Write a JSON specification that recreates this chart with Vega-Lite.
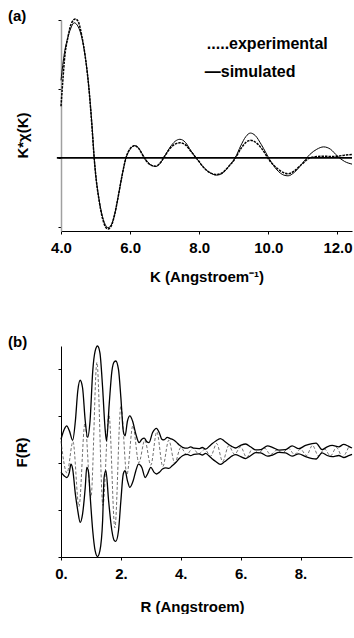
{
"$schema":"https://vega.github.io/schema/vega-lite/v6.json",
"autosize":{"type":"pad"},
"padding":{"left":8,"top":8,"right":0,"bottom":0},
"background":"white",
"bounds":"flush",
"spacing":115,
"config":{"view":{"stroke":null},"font":"Liberation Sans","axis":{"grid":false,"labelFont":"Liberation Sans","titleFont":"Liberation Sans","labelFontWeight":"bold","titleFontWeight":"bold","labelColor":"black","titleColor":"black","domainColor":"black","tickColor":"black","labelFontSize":15,"titleFontSize":15}},
"datasets":{
"ka":[
{"K":4.0,"v":2.25,"s":"sim"},{"K":4.1,"v":3.05,"s":"sim"},{"K":4.2,"v":3.5,"s":"sim"},{"K":4.3,"v":3.8,"s":"sim"},{"K":4.38,"v":3.92,"s":"sim"},{"K":4.5,"v":3.8,"s":"sim"},{"K":4.6,"v":3.5,"s":"sim"},{"K":4.7,"v":2.95,"s":"sim"},{"K":4.8,"v":2.1,"s":"sim"},{"K":4.9,"v":0.9,"s":"sim"},{"K":4.96,"v":0,"s":"sim"},{"K":5.0,"v":-0.45,"s":"sim"},{"K":5.1,"v":-1.2,"s":"sim"},{"K":5.2,"v":-1.7,"s":"sim"},{"K":5.3,"v":-1.97,"s":"sim"},{"K":5.36,"v":-2.02,"s":"sim"},{"K":5.45,"v":-1.95,"s":"sim"},{"K":5.55,"v":-1.65,"s":"sim"},{"K":5.65,"v":-1.15,"s":"sim"},{"K":5.75,"v":-0.6,"s":"sim"},{"K":5.88,"v":0,"s":"sim"},{"K":6.0,"v":0.25,"s":"sim"},{"K":6.13,"v":0.36,"s":"sim"},{"K":6.25,"v":0.28,"s":"sim"},{"K":6.35,"v":0.12,"s":"sim"},{"K":6.45,"v":-0.05,"s":"sim"},{"K":6.6,"v":-0.2,"s":"sim"},{"K":6.74,"v":-0.25,"s":"sim"},{"K":6.85,"v":-0.18,"s":"sim"},{"K":7.0,"v":0.05,"s":"sim"},{"K":7.15,"v":0.3,"s":"sim"},{"K":7.3,"v":0.48,"s":"sim"},{"K":7.44,"v":0.54,"s":"sim"},{"K":7.6,"v":0.45,"s":"sim"},{"K":7.75,"v":0.22,"s":"sim"},{"K":7.95,"v":-0.05,"s":"sim"},{"K":8.15,"v":-0.3,"s":"sim"},{"K":8.35,"v":-0.45,"s":"sim"},{"K":8.5,"v":-0.5,"s":"sim"},{"K":8.65,"v":-0.46,"s":"sim"},{"K":8.85,"v":-0.25,"s":"sim"},{"K":9.05,"v":0.02,"s":"sim"},{"K":9.2,"v":0.35,"s":"sim"},{"K":9.35,"v":0.62,"s":"sim"},{"K":9.48,"v":0.72,"s":"sim"},{"K":9.62,"v":0.65,"s":"sim"},{"K":9.8,"v":0.38,"s":"sim"},{"K":10.04,"v":-0.05,"s":"sim"},{"K":10.25,"v":-0.35,"s":"sim"},{"K":10.45,"v":-0.5,"s":"sim"},{"K":10.57,"v":-0.52,"s":"sim"},{"K":10.75,"v":-0.42,"s":"sim"},{"K":10.95,"v":-0.2,"s":"sim"},{"K":11.2,"v":0.1,"s":"sim"},{"K":11.4,"v":0.25,"s":"sim"},{"K":11.6,"v":0.32,"s":"sim"},{"K":11.8,"v":0.25,"s":"sim"},{"K":12.0,"v":0.05,"s":"sim"},{"K":12.2,"v":-0.1,"s":"sim"},{"K":12.42,"v":-0.18,"s":"sim"},
{"K":4.0,"v":1.5,"s":"exp"},{"K":4.05,"v":2.2,"s":"exp"},{"K":4.1,"v":2.85,"s":"exp"},{"K":4.2,"v":3.5,"s":"exp"},{"K":4.3,"v":3.9,"s":"exp"},{"K":4.42,"v":4.03,"s":"exp"},{"K":4.5,"v":3.95,"s":"exp"},{"K":4.6,"v":3.55,"s":"exp"},{"K":4.7,"v":2.95,"s":"exp"},{"K":4.8,"v":2.1,"s":"exp"},{"K":4.9,"v":0.85,"s":"exp"},{"K":4.96,"v":0,"s":"exp"},{"K":5.0,"v":-0.45,"s":"exp"},{"K":5.1,"v":-1.22,"s":"exp"},{"K":5.2,"v":-1.75,"s":"exp"},{"K":5.3,"v":-2.02,"s":"exp"},{"K":5.36,"v":-2.06,"s":"exp"},{"K":5.45,"v":-1.98,"s":"exp"},{"K":5.55,"v":-1.65,"s":"exp"},{"K":5.65,"v":-1.15,"s":"exp"},{"K":5.75,"v":-0.6,"s":"exp"},{"K":5.88,"v":0,"s":"exp"},{"K":6.0,"v":0.27,"s":"exp"},{"K":6.13,"v":0.35,"s":"exp"},{"K":6.25,"v":0.27,"s":"exp"},{"K":6.35,"v":0.1,"s":"exp"},{"K":6.45,"v":-0.06,"s":"exp"},{"K":6.6,"v":-0.21,"s":"exp"},{"K":6.74,"v":-0.24,"s":"exp"},{"K":6.85,"v":-0.17,"s":"exp"},{"K":7.0,"v":0.05,"s":"exp"},{"K":7.15,"v":0.27,"s":"exp"},{"K":7.3,"v":0.4,"s":"exp"},{"K":7.44,"v":0.44,"s":"exp"},{"K":7.6,"v":0.38,"s":"exp"},{"K":7.75,"v":0.2,"s":"exp"},{"K":7.95,"v":-0.05,"s":"exp"},{"K":8.15,"v":-0.3,"s":"exp"},{"K":8.35,"v":-0.45,"s":"exp"},{"K":8.5,"v":-0.48,"s":"exp"},{"K":8.65,"v":-0.44,"s":"exp"},{"K":8.85,"v":-0.25,"s":"exp"},{"K":9.05,"v":0.0,"s":"exp"},{"K":9.2,"v":0.26,"s":"exp"},{"K":9.35,"v":0.45,"s":"exp"},{"K":9.48,"v":0.51,"s":"exp"},{"K":9.62,"v":0.46,"s":"exp"},{"K":9.8,"v":0.28,"s":"exp"},{"K":10.04,"v":-0.08,"s":"exp"},{"K":10.25,"v":-0.3,"s":"exp"},{"K":10.45,"v":-0.43,"s":"exp"},{"K":10.57,"v":-0.46,"s":"exp"},{"K":10.75,"v":-0.38,"s":"exp"},{"K":10.95,"v":-0.2,"s":"exp"},{"K":11.2,"v":0.0,"s":"exp"},{"K":11.4,"v":0.04,"s":"exp"},{"K":11.6,"v":0.05,"s":"exp"},{"K":11.8,"v":0.04,"s":"exp"},{"K":12.0,"v":0.05,"s":"exp"},{"K":12.2,"v":0.08,"s":"exp"},{"K":12.42,"v":0.1,"s":"exp"}
],
"leg":[{"K":8.22,"v":3.3,"t":".....experimental"},{"K":8.16,"v":2.49,"t":"—simulated"}],
"zero":[{"a":3.88,"b":12.42,"v":0}],
"fr":[
{"R":0,"F":0.52,"s":"up"},{"R":0.11,"F":0.95,"s":"up"},{"R":0.19,"F":1.09,"s":"up"},{"R":0.28,"F":0.88,"s":"up"},{"R":0.39,"F":0.48,"s":"up"},{"R":0.48,"F":1.3,"s":"up"},{"R":0.56,"F":2.58,"s":"up"},{"R":0.64,"F":3.04,"s":"up"},{"R":0.72,"F":2.72,"s":"up"},{"R":0.81,"F":1.3,"s":"up"},{"R":0.89,"F":0.6,"s":"up"},{"R":0.97,"F":1.3,"s":"up"},{"R":1.06,"F":3.43,"s":"up"},{"R":1.14,"F":4.28,"s":"up"},{"R":1.22,"F":4.5,"s":"up"},{"R":1.3,"F":4.21,"s":"up"},{"R":1.39,"F":2.72,"s":"up"},{"R":1.47,"F":1.02,"s":"up"},{"R":1.52,"F":0.45,"s":"up"},{"R":1.61,"F":2.01,"s":"up"},{"R":1.7,"F":3.43,"s":"up"},{"R":1.78,"F":3.83,"s":"up"},{"R":1.83,"F":3.86,"s":"up"},{"R":1.92,"F":3.5,"s":"up"},{"R":2.0,"F":2.3,"s":"up"},{"R":2.08,"F":0.88,"s":"up"},{"R":2.14,"F":0.67,"s":"up"},{"R":2.22,"F":1.3,"s":"up"},{"R":2.3,"F":1.52,"s":"up"},{"R":2.39,"F":1.3,"s":"up"},{"R":2.5,"F":0.74,"s":"up"},{"R":2.61,"F":0.38,"s":"up"},{"R":2.7,"F":0.52,"s":"up"},{"R":2.78,"F":0.57,"s":"up"},{"R":2.86,"F":0.43,"s":"up"},{"R":2.94,"F":0.38,"s":"up"},{"R":3.06,"F":0.81,"s":"up"},{"R":3.19,"F":0.99,"s":"up"},{"R":3.28,"F":0.81,"s":"up"},{"R":3.37,"F":0.52,"s":"up"},{"R":3.44,"F":0.5,"s":"up"},{"R":3.55,"F":0.6,"s":"up"},{"R":3.65,"F":0.55,"s":"up"},{"R":3.75,"F":0.5,"s":"up"},{"R":3.85,"F":0.4,"s":"up"},{"R":3.95,"F":0.28,"s":"up"},{"R":4.06,"F":0.18,"s":"up"},{"R":4.22,"F":0.14,"s":"up"},{"R":4.33,"F":0.2,"s":"up"},{"R":4.44,"F":0.14,"s":"up"},{"R":4.61,"F":0.12,"s":"up"},{"R":4.72,"F":0.17,"s":"up"},{"R":4.83,"F":0.1,"s":"up"},{"R":5.0,"F":0.28,"s":"up"},{"R":5.17,"F":0.45,"s":"up"},{"R":5.32,"F":0.55,"s":"up"},{"R":5.45,"F":0.45,"s":"up"},{"R":5.6,"F":0.3,"s":"up"},{"R":5.7,"F":0.22,"s":"up"},{"R":5.83,"F":0.15,"s":"up"},{"R":6.0,"F":0.26,"s":"up"},{"R":6.17,"F":0.32,"s":"up"},{"R":6.33,"F":0.2,"s":"up"},{"R":6.5,"F":0.07,"s":"up"},{"R":6.67,"F":0.08,"s":"up"},{"R":6.9,"F":0.24,"s":"up"},{"R":7.06,"F":0.18,"s":"up"},{"R":7.28,"F":0.06,"s":"up"},{"R":7.5,"F":0.08,"s":"up"},{"R":7.72,"F":0.24,"s":"up"},{"R":7.94,"F":0.12,"s":"up"},{"R":8.17,"F":0.26,"s":"up"},{"R":8.39,"F":0.34,"s":"up"},{"R":8.52,"F":0.36,"s":"up"},{"R":8.72,"F":0.08,"s":"up"},{"R":8.89,"F":0.2,"s":"up"},{"R":9.06,"F":0.26,"s":"up"},{"R":9.28,"F":0.2,"s":"up"},{"R":9.44,"F":0.3,"s":"up"},{"R":9.61,"F":0.22,"s":"up"},{"R":9.72,"F":0.15,"s":"up"},
{"R":0,"F":-0.89,"s":"lo"},{"R":0.11,"F":-1.04,"s":"lo"},{"R":0.19,"F":-1.11,"s":"lo"},{"R":0.28,"F":-0.89,"s":"lo"},{"R":0.33,"F":-0.54,"s":"lo"},{"R":0.39,"F":-0.75,"s":"lo"},{"R":0.48,"F":-1.82,"s":"lo"},{"R":0.56,"F":-2.52,"s":"lo"},{"R":0.64,"F":-3.02,"s":"lo"},{"R":0.72,"F":-2.67,"s":"lo"},{"R":0.81,"F":-1.53,"s":"lo"},{"R":0.86,"F":-0.68,"s":"lo"},{"R":0.92,"F":-0.89,"s":"lo"},{"R":0.97,"F":-1.82,"s":"lo"},{"R":1.06,"F":-3.38,"s":"lo"},{"R":1.14,"F":-4.23,"s":"lo"},{"R":1.22,"F":-4.48,"s":"lo"},{"R":1.3,"F":-4.23,"s":"lo"},{"R":1.39,"F":-2.95,"s":"lo"},{"R":1.44,"F":-1.11,"s":"lo"},{"R":1.5,"F":-0.82,"s":"lo"},{"R":1.59,"F":-2.1,"s":"lo"},{"R":1.7,"F":-3.38,"s":"lo"},{"R":1.78,"F":-3.8,"s":"lo"},{"R":1.83,"F":-3.83,"s":"lo"},{"R":1.92,"F":-3.38,"s":"lo"},{"R":2.0,"F":-2.1,"s":"lo"},{"R":2.08,"F":-0.96,"s":"lo"},{"R":2.14,"F":-0.82,"s":"lo"},{"R":2.22,"F":-1.25,"s":"lo"},{"R":2.3,"F":-1.53,"s":"lo"},{"R":2.41,"F":-1.25,"s":"lo"},{"R":2.5,"F":-0.82,"s":"lo"},{"R":2.59,"F":-0.54,"s":"lo"},{"R":2.7,"F":-0.68,"s":"lo"},{"R":2.81,"F":-1.11,"s":"lo"},{"R":2.89,"F":-0.96,"s":"lo"},{"R":3.0,"F":-0.68,"s":"lo"},{"R":3.11,"F":-0.89,"s":"lo"},{"R":3.19,"F":-0.96,"s":"lo"},{"R":3.28,"F":-0.89,"s":"lo"},{"R":3.39,"F":-0.75,"s":"lo"},{"R":3.5,"F":-0.7,"s":"lo"},{"R":3.6,"F":-0.72,"s":"lo"},{"R":3.72,"F":-0.6,"s":"lo"},{"R":3.85,"F":-0.45,"s":"lo"},{"R":3.95,"F":-0.3,"s":"lo"},{"R":4.06,"F":-0.18,"s":"lo"},{"R":4.22,"F":-0.12,"s":"lo"},{"R":4.33,"F":-0.18,"s":"lo"},{"R":4.44,"F":-0.12,"s":"lo"},{"R":4.61,"F":-0.1,"s":"lo"},{"R":4.72,"F":-0.15,"s":"lo"},{"R":4.83,"F":-0.08,"s":"lo"},{"R":5.0,"F":-0.26,"s":"lo"},{"R":5.17,"F":-0.43,"s":"lo"},{"R":5.32,"F":-0.55,"s":"lo"},{"R":5.45,"F":-0.45,"s":"lo"},{"R":5.6,"F":-0.3,"s":"lo"},{"R":5.7,"F":-0.2,"s":"lo"},{"R":5.83,"F":-0.13,"s":"lo"},{"R":6.0,"F":-0.22,"s":"lo"},{"R":6.17,"F":-0.3,"s":"lo"},{"R":6.33,"F":-0.18,"s":"lo"},{"R":6.5,"F":-0.05,"s":"lo"},{"R":6.67,"F":-0.06,"s":"lo"},{"R":6.9,"F":-0.2,"s":"lo"},{"R":7.06,"F":-0.15,"s":"lo"},{"R":7.28,"F":-0.04,"s":"lo"},{"R":7.5,"F":-0.06,"s":"lo"},{"R":7.72,"F":-0.2,"s":"lo"},{"R":7.94,"F":-0.1,"s":"lo"},{"R":8.17,"F":-0.22,"s":"lo"},{"R":8.39,"F":-0.3,"s":"lo"},{"R":8.52,"F":-0.32,"s":"lo"},{"R":8.72,"F":-0.06,"s":"lo"},{"R":8.89,"F":-0.17,"s":"lo"},{"R":9.06,"F":-0.22,"s":"lo"},{"R":9.28,"F":-0.17,"s":"lo"},{"R":9.44,"F":-0.26,"s":"lo"},{"R":9.61,"F":-0.18,"s":"lo"},{"R":9.72,"F":-0.12,"s":"lo"},
{"R":0.0,"F":0.44,"s":"in"},{"R":0.2,"F":-0.92,"s":"in"},{"R":0.4,"F":0.42,"s":"in"},{"R":0.6,"F":-2.35,"s":"in"},{"R":0.8,"F":1.2,"s":"in"},{"R":1.0,"F":-1.95,"s":"in"},{"R":1.2,"F":3.8,"s":"in"},{"R":1.4,"F":-2.3,"s":"in"},{"R":1.6,"F":1.6,"s":"in"},{"R":1.8,"F":-3.25,"s":"in"},{"R":2.0,"F":1.95,"s":"in"},{"R":2.2,"F":-1.0,"s":"in"},{"R":2.4,"F":1.1,"s":"in"},{"R":2.6,"F":-0.48,"s":"in"},{"R":2.8,"F":0.48,"s":"in"},{"R":3.0,"F":-0.58,"s":"in"},{"R":3.2,"F":0.84,"s":"in"},{"R":3.4,"F":-0.64,"s":"in"},{"R":3.6,"F":0.48,"s":"in"},{"R":3.8,"F":-0.5,"s":"in"},{"R":4.0,"F":0.17,"s":"in"},{"R":4.2,"F":-0.13,"s":"in"},{"R":4.4,"F":0.14,"s":"in"},{"R":4.6,"F":-0.1,"s":"in"},{"R":4.8,"F":0.09,"s":"in"},{"R":5.0,"F":-0.2,"s":"in"},{"R":5.2,"F":0.34,"s":"in"},{"R":5.4,"F":-0.43,"s":"in"},{"R":5.6,"F":0.24,"s":"in"},{"R":5.8,"F":-0.12,"s":"in"},{"R":6.0,"F":0.2,"s":"in"},{"R":6.2,"F":-0.25,"s":"in"},{"R":6.4,"F":0.12,"s":"in"},{"R":6.6,"F":-0.06,"s":"in"},{"R":6.8,"F":0.14,"s":"in"},{"R":7.0,"F":-0.13,"s":"in"},{"R":7.2,"F":0.05,"s":"in"},{"R":7.4,"F":-0.05,"s":"in"},{"R":7.6,"F":0.13,"s":"in"},{"R":7.8,"F":-0.13,"s":"in"},{"R":8.0,"F":0.1,"s":"in"},{"R":8.2,"F":-0.17,"s":"in"},{"R":8.4,"F":0.26,"s":"in"},{"R":8.6,"F":-0.19,"s":"in"},{"R":8.8,"F":0.11,"s":"in"},{"R":9.0,"F":-0.19,"s":"in"},{"R":9.2,"F":0.17,"s":"in"},{"R":9.4,"F":-0.22,"s":"in"},{"R":9.6,"F":0.17,"s":"in"}
]
},
"vconcat":[
{
"width":291,"height":211,
"title":{"text":"(a)","anchor":"start","frame":"group","dx":-53,"baseline":"top","offset":-8,"fontSize":15,"fontWeight":"bold","color":"black","font":"Liberation Sans"},
"layer":[
{"data":{"name":"zero"},"mark":{"type":"rule","stroke":"black","strokeWidth":1.6},
 "encoding":{"x":{"field":"a","type":"quantitative","scale":{"domain":[4,12.42],"nice":false,"zero":false},
   "axis":{"values":[4,5,6,7,8,9,10,11,12],"labelExpr":"datum.value % 2 == 0 ? format(datum.value,'.1f') : ''","title":"K (Angstroem⁻¹)","tickSize":3,"labelPadding":6,"titlePadding":14,"labelFlush":false,"labelOverlap":false}},
  "x2":{"field":"b"},
  "y":{"field":"v","type":"quantitative","scale":{"domain":[-2.12,4.0],"nice":false,"zero":false},
   "axis":{"values":[-2,-1,0,1,2,3,4],"labels":false,"title":"K*χ(K)","domainColor":"#a0a0a0","domainWidth":1.5,"tickSize":3,"titleX":-39,"titleY":115,"titleAngle":-90,"titleAlign":"center","titleBaseline":"middle"}}}},
{"data":{"name":"ka"},"transform":[{"filter":"datum.s == 'sim'"}],"mark":{"type":"line","stroke":"black","strokeWidth":1,"interpolate":"monotone"},
 "encoding":{"x":{"field":"K","type":"quantitative"},"y":{"field":"v","type":"quantitative"}}},
{"data":{"name":"ka"},"transform":[{"filter":"datum.s == 'exp'"}],"mark":{"type":"line","stroke":"black","strokeWidth":1.5,"strokeDash":[2.5,1],"interpolate":"monotone"},
 "encoding":{"x":{"field":"K","type":"quantitative"},"y":{"field":"v","type":"quantitative"}}},
{"data":{"name":"leg"},"mark":{"type":"text","align":"left","baseline":"middle","fontSize":16,"fontWeight":"bold","font":"Liberation Sans","color":"black"},
 "encoding":{"x":{"field":"K","type":"quantitative"},"y":{"field":"v","type":"quantitative"},"text":{"field":"t"}}}
]
},
{
"width":291,"height":211,
"title":{"text":"(b)","anchor":"start","frame":"group","dx":-53,"baseline":"top","offset":-7,"fontSize":15,"fontWeight":"bold","color":"black","font":"Liberation Sans"},
"layer":[
{"data":{"name":"fr"},"transform":[{"filter":"datum.s == 'in'"}],"mark":{"type":"line","stroke":"#333","strokeWidth":0.7,"strokeDash":[3,2],"interpolate":"monotone"},
 "encoding":{"x":{"field":"R","type":"quantitative","scale":{"domain":[0,9.72],"nice":false,"zero":false},
   "axis":{"values":[0,1,2,3,4,5,6,7,8,9],"labelExpr":"datum.value % 2 == 0 ? format(datum.value,'d') + '.' : ''","title":"R (Angstroem)","tickSize":3,"labelPadding":6,"titlePadding":18,"labelFlush":false,"labelOverlap":false,"titleX":131,"titleAnchor":"middle"}},
  "y":{"field":"F","type":"quantitative","scale":{"domain":[-4.5,4.5],"nice":false,"zero":false},
   "axis":{"values":[-4.5,-4,-3.5,-3,-2.5,-2,-1.5,-1,-0.5,0,0.5,1,1.5,2,2.5,3,3.5,4,4.5],"labels":false,"title":"F(R)","tickSize":3,"titleX":-40,"titleY":106,"titleAngle":-90,"titleAlign":"center","titleBaseline":"middle"}}}},
{"data":{"name":"fr"},"transform":[{"filter":"datum.s != 'in'"}],"mark":{"type":"line","stroke":"black","strokeWidth":1.3,"interpolate":"monotone"},
 "encoding":{"x":{"field":"R","type":"quantitative"},"y":{"field":"F","type":"quantitative"},"detail":{"field":"s"}}}
]
}
]
}
